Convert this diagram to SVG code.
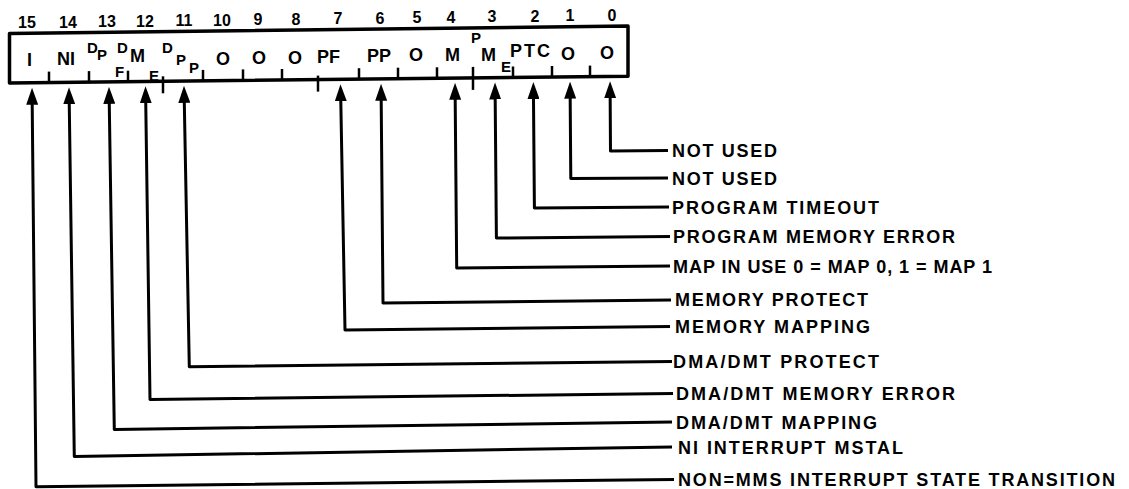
<svg xmlns="http://www.w3.org/2000/svg" width="1129" height="489" viewBox="0 0 1129 489">
<style>
text{font-family:"Liberation Sans",Arial,sans-serif;font-weight:bold;fill:#000}
.num{font-size:16px;text-anchor:middle}
.cell{font-size:18px}
.sm{font-size:15px}
.lbl{font-size:18px}
.box{fill:none;stroke:#000;stroke-width:3.5;stroke-linejoin:round}
.tick{stroke:#000;stroke-width:2.5}
.conn{fill:none;stroke:#000;stroke-width:3;stroke-linejoin:round;marker-start:url(#arr)}
</style>
<defs>
<marker id="arr" viewBox="0 0 17 12" refX="10.8" refY="6" markerWidth="17" markerHeight="12" markerUnits="userSpaceOnUse" orient="auto-start-reverse">
<path d="M0,0 L17,6 L0,12 Z" fill="#000"/>
</marker>
</defs>
<rect width="1129" height="489" fill="#fff"/>
<g id="bit-numbers">
<text class="num" x="27" y="28">15</text>
<text class="num" x="68" y="27.5">14</text>
<text class="num" x="107" y="27">13</text>
<text class="num" x="145" y="26.5">12</text>
<text class="num" x="184" y="26">11</text>
<text class="num" x="222" y="25.6">10</text>
<text class="num" x="258" y="25.2">9</text>
<text class="num" x="296" y="24.7">8</text>
<text class="num" x="338" y="24.2">7</text>
<text class="num" x="380" y="23.7">6</text>
<text class="num" x="417" y="23.3">5</text>
<text class="num" x="451" y="22.9">4</text>
<text class="num" x="492" y="22.4">3</text>
<text class="num" x="535" y="21.9">2</text>
<text class="num" x="570" y="21.4">1</text>
<text class="num" x="612" y="20.9">0</text>
</g>
<g id="register">
<path class="box" d="M9.5,33.5 L628,26 L628,76.2 L9.5,83 Z"/>
<g id="ticks">
<line class="tick" x1="49" y1="71.6" x2="49" y2="82.6"/>
<line class="tick" x1="89" y1="71.1" x2="89" y2="82.1"/>
<line class="tick" x1="128" y1="70.7" x2="128" y2="81.7"/>
<line class="tick" x1="163" y1="76.3" x2="163" y2="93.3"/>
<line class="tick" x1="203" y1="69.9" x2="203" y2="80.9"/>
<line class="tick" x1="243" y1="69.4" x2="243" y2="80.4"/>
<line class="tick" x1="282" y1="69" x2="282" y2="80"/>
<line class="tick" x1="318" y1="75.6" x2="318" y2="91.6"/>
<line class="tick" x1="359" y1="68.2" x2="359" y2="79.2"/>
<line class="tick" x1="398" y1="67.7" x2="398" y2="78.7"/>
<line class="tick" x1="437" y1="67.3" x2="437" y2="78.3"/>
<line class="tick" x1="473" y1="66.9" x2="473" y2="89.9"/>
<line class="tick" x1="513" y1="66.5" x2="513" y2="77.5"/>
<line class="tick" x1="552" y1="66" x2="552" y2="77"/>
<line class="tick" x1="590" y1="65.6" x2="590" y2="76.6"/>
</g>
<g id="cell-labels">
<text class="cell" x="27" y="66">I</text>
<text class="cell" x="57" y="65">NI</text>
<text class="sm" x="87" y="53">D</text>
<text class="sm" x="97" y="60">P</text>
<text class="sm" x="117" y="53">D</text>
<text class="sm" x="115" y="77">F</text>
<text class="cell" x="130" y="62">M</text>
<text class="sm" x="149" y="81">E</text>
<text class="sm" x="162" y="53">D</text>
<text class="sm" x="176" y="65">P</text>
<text class="sm" x="189" y="73">P</text>
<text class="cell" x="216" y="65">O</text>
<text class="cell" x="252" y="64">O</text>
<text class="cell" x="288" y="63.5">O</text>
<text class="cell" x="317" y="63">PF</text>
<text class="cell" x="367" y="62">PP</text>
<text class="cell" x="409" y="61">O</text>
<text class="cell" x="445" y="61">M</text>
<text class="sm" x="471" y="43">P</text>
<text class="cell" x="481" y="61">M</text>
<text class="sm" x="501" y="72">E</text>
<text class="cell" x="510" y="57" textLength="40">PTC</text>
<text class="cell" x="561" y="60">O</text>
<text class="cell" x="600" y="58.5">O</text>
</g>
</g>
<g id="connectors">
<polyline class="conn" points="610.1,87.4 610.5,151 668,150.5"/>
<polyline class="conn" points="570.1,87.8 570.8,178.5 668,178"/>
<polyline class="conn" points="533.4,88.2 534.4,208 669,207"/>
<polyline class="conn" points="495.1,88.7 496.4,238 670,236.5"/>
<polyline class="conn" points="455.1,89 456.7,268 670,266"/>
<polyline class="conn" points="381.1,90 383,303 671,300"/>
<polyline class="conn" points="340.6,90.4 345,330 670,326.5"/>
<polyline class="conn" points="184.1,92 189.3,366.7 672,361.5"/>
<polyline class="conn" points="145.6,92.5 150,399.5 673,393.5"/>
<polyline class="conn" points="109.1,93 114.3,429.5 672,422"/>
<polyline class="conn" points="69.1,93.4 74.3,456.5 672,447"/>
<polyline class="conn" points="32.1,94 36,486.7 674,479.5"/>
</g>
<g id="label-bit0"><text class="lbl" x="672" y="157" textLength="105">NOT USED</text></g>
<g id="label-bit1"><text class="lbl" x="672" y="184.5" textLength="105">NOT USED</text></g>
<g id="label-bit2"><text class="lbl" x="672" y="213.5" textLength="207">PROGRAM TIMEOUT</text></g>
<g id="label-bit3"><text class="lbl" x="673" y="243" textLength="282">PROGRAM MEMORY ERROR</text></g>
<g id="label-bit4"><text class="lbl" x="673" y="272.5" textLength="319">MAP IN USE 0 = MAP 0, 1 = MAP 1</text></g>
<g id="label-bit6"><text class="lbl" x="675" y="306" textLength="193">MEMORY PROTECT</text></g>
<g id="label-bit7"><text class="lbl" x="675" y="333" textLength="195">MEMORY MAPPING</text></g>
<g id="label-bit11"><text class="lbl" x="673" y="368" textLength="206">DMA/DMT PROTECT</text></g>
<g id="label-bit12"><text class="lbl" x="676" y="400" textLength="279">DMA/DMT MEMORY ERROR</text></g>
<g id="label-bit13"><text class="lbl" x="676" y="428.5" textLength="201">DMA/DMT MAPPING</text></g>
<g id="label-bit14"><text class="lbl" x="678" y="453.5" textLength="225">NI INTERRUPT MSTAL</text></g>
<g id="label-bit15"><text class="lbl" x="678" y="486" textLength="437">NON=MMS INTERRUPT STATE TRANSITION</text></g>
</svg>
